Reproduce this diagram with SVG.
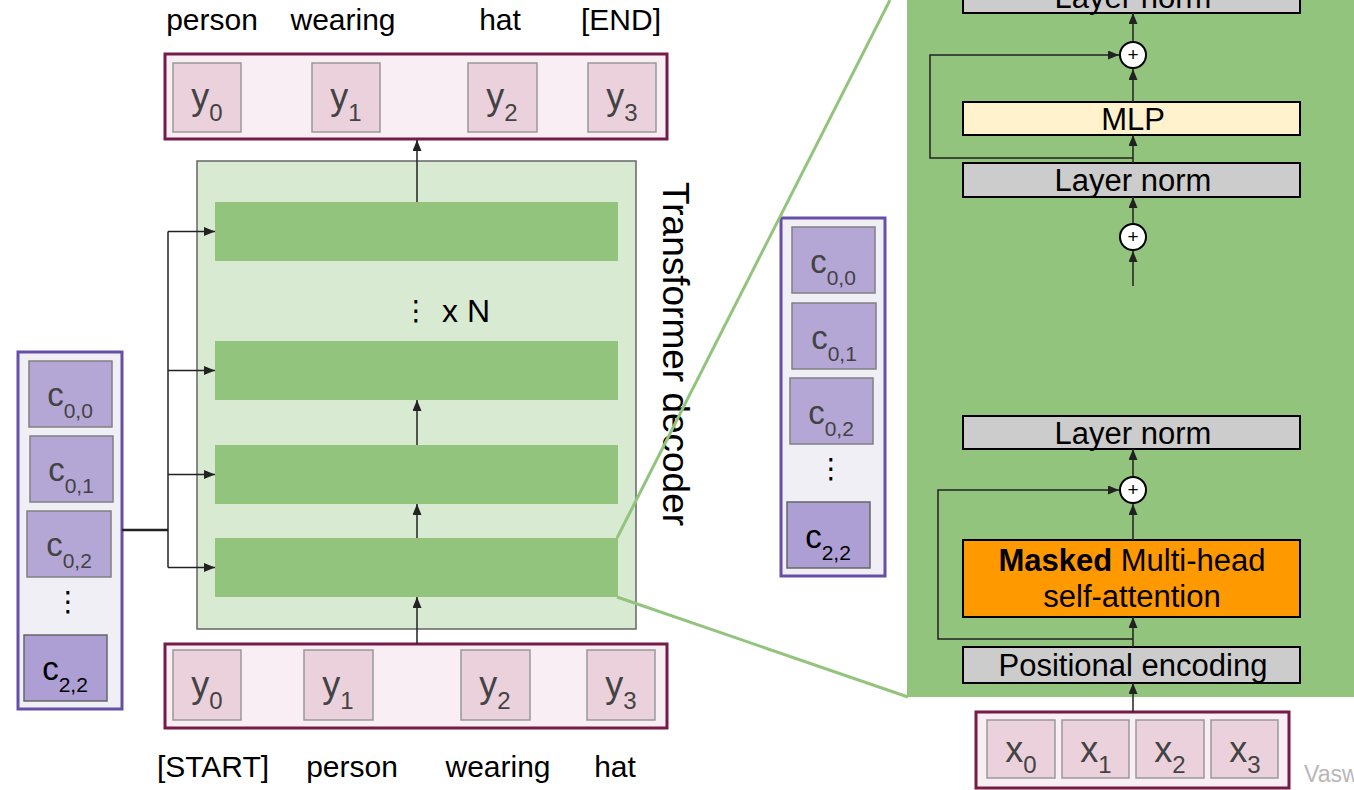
<svg xmlns="http://www.w3.org/2000/svg" width="1354" height="790" viewBox="0 0 1354 790">
<defs>
<marker id="ah" markerUnits="userSpaceOnUse" markerWidth="12" markerHeight="10" refX="11" refY="4.5" orient="auto">
<path d="M0,0 L11,4.5 L0,9 z" fill="#222"/>
</marker>
<style>
text{font-family:"Liberation Sans",Arial,sans-serif;}
.lbl{font-size:30px;fill:#000;text-anchor:middle;}
.row{fill:#f8eef3;stroke:#741b47;stroke-width:3;}
.tok{fill:#ead1dc;stroke:#999;stroke-width:1.5;}
.tokt{font-size:36px;fill:#434343;text-anchor:middle;}
.sub{font-size:24px;}
.ccol{fill:#f0eff6;stroke:#674ea7;stroke-width:3;}
.cbox{fill:#b4a7d6;stroke:#808080;stroke-width:1.5;}
.cbox2{fill:#ad9fd4;stroke:#666;stroke-width:1.5;}
.ct{font-size:33px;fill:#434343;text-anchor:middle;}
.ct2{font-size:33px;fill:#000;text-anchor:middle;}
.csub{font-size:21px;}
.bar{fill:#93c47d;}
.blk{stroke:#000;stroke-width:2;}
.bt{font-size:31px;fill:#000;text-anchor:middle;}
.arr{stroke:#222;stroke-width:1.5;fill:none;marker-end:url(#ah);}
.ln{stroke:#222;stroke-width:1.5;fill:none;}
.zoom{stroke:#93c47d;stroke-width:3;fill:none;}
.plus{fill:#fff;stroke:#000;stroke-width:2;}
.dots{font-family:"DejaVu Sans",sans-serif;font-size:28px;fill:#000;text-anchor:middle;}
</style>
</defs>

<!-- Transformer decoder block -->
<g id="decoder">
<rect x="197" y="161" width="439" height="468" fill="#d9ead3" stroke="#666" stroke-width="1.5"/>
<rect class="bar" x="215" y="202" width="403" height="59"/>
<rect class="bar" x="215" y="341" width="403" height="59"/>
<rect class="bar" x="215" y="445" width="403" height="59"/>
<rect class="bar" x="215" y="538" width="403" height="59"/>
<text class="dots" x="416" y="320">⋮</text>
<text x="442" y="322" font-size="32" fill="#000">x N</text>
<text transform="translate(663,182) rotate(90)" font-size="37" fill="#000">Transformer decoder</text>
</g>

<!-- Output tokens -->
<g id="output-tokens">
<rect class="row" x="165" y="54" width="502" height="85"/>
<rect class="tok" x="173" y="63" width="68" height="69"/>
<rect class="tok" x="312" y="63" width="68" height="69"/>
<rect class="tok" x="468" y="63" width="69" height="69"/>
<rect class="tok" x="588" y="63" width="68" height="69"/>
<text class="tokt" x="207" y="109">y<tspan class="sub" dy="12">0</tspan></text>
<text class="tokt" x="346" y="109">y<tspan class="sub" dy="12">1</tspan></text>
<text class="tokt" x="502" y="109">y<tspan class="sub" dy="12">2</tspan></text>
<text class="tokt" x="622" y="109">y<tspan class="sub" dy="12">3</tspan></text>
<text class="lbl" x="212" y="30">person</text>
<text class="lbl" x="343" y="30">wearing</text>
<text class="lbl" x="500" y="30">hat</text>
<text class="lbl" x="621" y="30">[END]</text>
</g>

<!-- Input tokens -->
<g id="input-tokens">
<rect class="row" x="165" y="644" width="502" height="84"/>
<rect class="tok" x="173" y="650" width="68" height="70"/>
<rect class="tok" x="304" y="650" width="69" height="70"/>
<rect class="tok" x="461" y="650" width="69" height="70"/>
<rect class="tok" x="587" y="650" width="68" height="70"/>
<text class="tokt" x="207" y="697">y<tspan class="sub" dy="12">0</tspan></text>
<text class="tokt" x="338" y="697">y<tspan class="sub" dy="12">1</tspan></text>
<text class="tokt" x="495" y="697">y<tspan class="sub" dy="12">2</tspan></text>
<text class="tokt" x="621" y="697">y<tspan class="sub" dy="12">3</tspan></text>
<text class="lbl" x="213" y="777">[START]</text>
<text class="lbl" x="352" y="777">person</text>
<text class="lbl" x="498" y="777">wearing</text>
<text class="lbl" x="615" y="777">hat</text>
</g>

<!-- Left image features -->
<g id="features-left">
<rect class="ccol" x="18" y="352" width="104" height="357"/>
<rect class="cbox" x="29" y="361" width="83" height="66"/>
<rect class="cbox" x="30" y="436" width="83" height="66"/>
<rect class="cbox" x="27" y="511" width="84" height="66"/>
<rect class="cbox2" x="24" y="635" width="83" height="66"/>
<text class="ct" x="70" y="406">c<tspan class="csub" dy="12">0,0</tspan></text>
<text class="ct" x="71" y="481">c<tspan class="csub" dy="12">0,1</tspan></text>
<text class="ct" x="69" y="556">c<tspan class="csub" dy="12">0,2</tspan></text>
<text class="dots" x="68" y="611">⋮</text>
<text class="ct2" x="65" y="680">c<tspan class="csub" dy="12">2,2</tspan></text>
</g>

<!-- Right image features -->
<g id="features-right">
<rect class="ccol" x="781" y="218" width="104" height="358"/>
<rect class="cbox" x="792" y="227" width="83" height="66"/>
<rect class="cbox" x="792" y="303" width="84" height="66"/>
<rect class="cbox" x="790" y="378" width="83" height="66"/>
<rect class="cbox2" x="787" y="502" width="83" height="66"/>
<text class="ct" x="833" y="273">c<tspan class="csub" dy="12">0,0</tspan></text>
<text class="ct" x="834" y="349">c<tspan class="csub" dy="12">0,1</tspan></text>
<text class="ct" x="831" y="424">c<tspan class="csub" dy="12">0,2</tspan></text>
<text class="dots" x="831" y="478">⋮</text>
<text class="ct2" x="828" y="548">c<tspan class="csub" dy="12">2,2</tspan></text>
</g>

<!-- Zoomed decoder layer panel -->
<g id="layer-panel">
<rect x="907" y="-5" width="452" height="702" fill="#93c47d"/>
</g>
<g id="layernorm-top">
<rect class="blk" x="963" y="-21" width="337" height="34" fill="#cccccc"/>
<text class="bt" x="1133" y="8">Layer norm</text>
</g>
<g id="add-2">
<circle class="plus" cx="1133" cy="55" r="13"/>
<text x="1133" y="61" font-size="19" text-anchor="middle" fill="#000">+</text>
</g>
<g id="mlp">
<rect class="blk" x="963" y="102" width="337" height="33" fill="#fff2cc"/>
<text class="bt" x="1133" y="130">MLP</text>
</g>
<g id="layernorm-2">
<rect class="blk" x="963" y="163" width="337" height="34" fill="#cccccc"/>
<text class="bt" x="1133" y="191">Layer norm</text>
</g>
<g id="add-cross">
<circle class="plus" cx="1133" cy="237" r="13"/>
<text x="1133" y="243" font-size="19" text-anchor="middle" fill="#000">+</text>
</g>
<g id="layernorm-1">
<rect class="blk" x="963" y="416" width="337" height="33" fill="#cccccc"/>
<text class="bt" x="1133" y="444">Layer norm</text>
</g>
<g id="add-1">
<circle class="plus" cx="1133" cy="490" r="13"/>
<text x="1133" y="496" font-size="19" text-anchor="middle" fill="#000">+</text>
</g>
<g id="masked-attention">
<rect class="blk" x="963" y="540" width="337" height="77" fill="#ff9900"/>
<text class="bt" x="1132" y="571"><tspan font-weight="bold">Masked</tspan> Multi-head</text>
<text class="bt" x="1132" y="607">self-attention</text>
</g>
<g id="positional-encoding">
<rect class="blk" x="963" y="647" width="337" height="36" fill="#cccccc"/>
<text class="bt" x="1133" y="676">Positional encoding</text>
</g>
<g id="x-tokens">
<rect class="row" x="976" y="712" width="313" height="76"/>
<rect class="tok" x="987" y="720" width="68" height="58"/>
<rect class="tok" x="1062" y="720" width="67" height="58"/>
<rect class="tok" x="1136" y="720" width="68" height="58"/>
<rect class="tok" x="1211" y="720" width="67" height="58"/>
<text class="tokt" x="1021" y="762">x<tspan class="sub" dy="11">0</tspan></text>
<text class="tokt" x="1096" y="762">x<tspan class="sub" dy="11">1</tspan></text>
<text class="tokt" x="1170" y="762">x<tspan class="sub" dy="11">2</tspan></text>
<text class="tokt" x="1245" y="762">x<tspan class="sub" dy="11">3</tspan></text>
</g>
<g id="citation">
<text x="1304" y="782" font-size="23" fill="#b7b7b7">Vasw</text>
</g>

<!-- Connectors -->
<g id="connectors">
<line x1="122" y1="530" x2="168" y2="530" stroke="#222" stroke-width="2.5"/>
<line class="ln" x1="168" y1="231.5" x2="168" y2="567.5"/>
<line class="arr" x1="168" y1="231.5" x2="215" y2="231.5"/>
<line class="arr" x1="168" y1="370.5" x2="215" y2="370.5"/>
<line class="arr" x1="168" y1="474.5" x2="215" y2="474.5"/>
<line class="arr" x1="168" y1="567.5" x2="215" y2="567.5"/>
<line class="arr" x1="417" y1="644" x2="417" y2="597"/>
<line class="arr" x1="417" y1="538" x2="417" y2="504"/>
<line class="arr" x1="417" y1="445" x2="417" y2="400"/>
<line class="arr" x1="417" y1="202" x2="417" y2="140"/>
<line class="zoom" x1="617" y1="538" x2="890" y2="0"/>
<line class="zoom" x1="617" y1="597" x2="908" y2="697"/>
<line class="arr" x1="1133" y1="286" x2="1133" y2="251"/>
<line class="arr" x1="1133" y1="223" x2="1133" y2="197"/>
<line class="arr" x1="1133" y1="163" x2="1133" y2="135"/>
<line class="arr" x1="1133" y1="102" x2="1133" y2="69"/>
<line class="arr" x1="1133" y1="41" x2="1133" y2="13"/>
<path class="arr" d="M1133,158 H930 V55 H1119"/>
<line class="arr" x1="1133" y1="712" x2="1133" y2="683"/>
<line class="arr" x1="1133" y1="647" x2="1133" y2="617"/>
<line class="arr" x1="1133" y1="540" x2="1133" y2="504"/>
<line class="arr" x1="1133" y1="476" x2="1133" y2="449"/>
<path class="arr" d="M1133,639 H938 V490 H1119"/>
</g>
</svg>
